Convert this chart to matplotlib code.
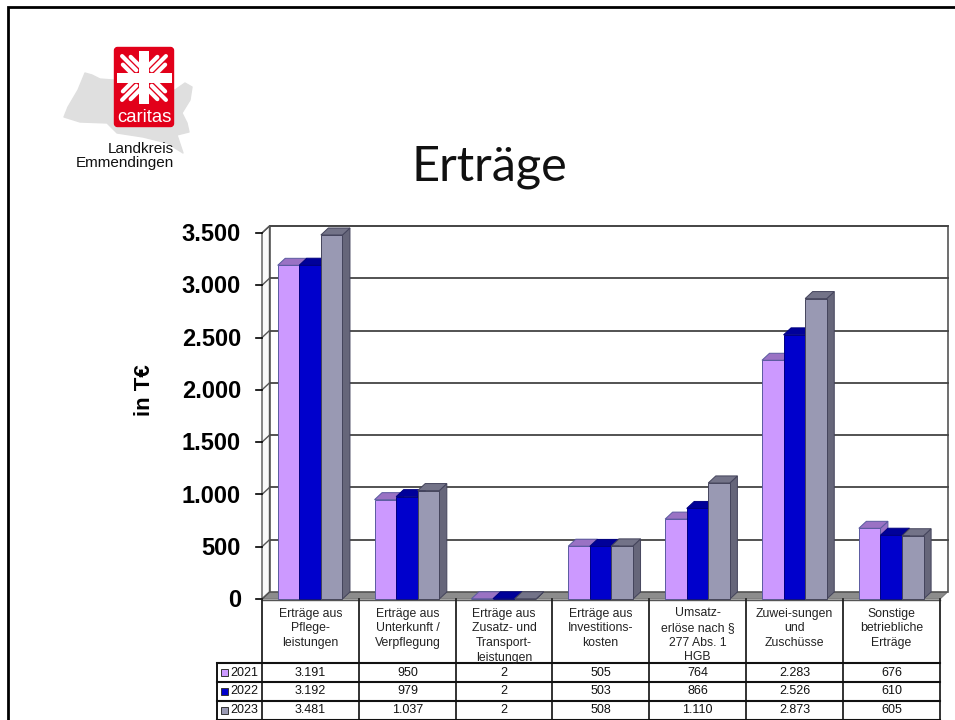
import numpy as np
import matplotlib
matplotlib.use('Agg')
import matplotlib.pyplot as plt
from matplotlib.patches import Polygon, Rectangle, FancyBboxPatch

plt.rcParams['font.family'] = ['Liberation Sans', 'DejaVu Sans']

# Data
categories = [
    ['Erträge aus', 'Pflege-', 'leistungen'],
    ['Erträge aus', 'Unterkunft /', 'Verpflegung'],
    ['Erträge aus', 'Zusatz- und', 'Transport-', 'leistungen'],
    ['Erträge aus', 'Investitions-', 'kosten'],
    ['Umsatz-', 'erlöse nach §', '277 Abs. 1', 'HGB'],
    ['Zuwei-sungen', 'und', 'Zuschüsse'],
    ['Sonstige', 'betriebliche', 'Erträge'],
]
years = ['2021', '2022', '2023']
v2021 = [3191, 950, 2, 505, 764, 2283, 676]
v2022 = [3192, 979, 2, 503, 866, 2526, 610]
v2023 = [3481, 1037, 2, 508, 1110, 2873, 605]
yticks = [0, 500, 1000, 1500, 2000, 2500, 3000, 3500]
ytick_labels = ['0', '500', '1.000', '1.500', '2.000', '2.500', '3.000', '3.500']

series = [v2021, v2022, v2023]
front = ['#CC99FF', '#0000CC', '#9999B3']
top = ['#9A72C4', '#000099', '#737388']
side = ['#9A72C4', '#00008A', '#66667A']
edge = ['#5A5AA0', '#000080', '#44445C']

W, H = 955, 720
fig = plt.figure(figsize=(W / 100, H / 100), dpi=100, facecolor='white')

# overlay in pixels for frame, logo, table
pg = fig.add_axes([0, 0, 1, 1])
pg.set_xlim(0, W)
pg.set_ylim(H, 0)
pg.axis('off')

pg.plot([8, 8, W], [H, 7, 7], color='black', lw=2, solid_joinstyle='miter')

# logo
blob = [(64, 117), (68, 107), (78, 90), (85, 73), (92, 75), (100, 79), (113, 80), (175, 90),
        (185, 83), (192, 87), (190, 100), (182, 113), (187, 123), (189, 132),
        (177, 135), (183, 153), (167, 143), (143, 137), (117, 133), (107, 123), (80, 122)]
pg.add_patch(Polygon(blob, fc='#DFDFDF', ec='#DFDFDF', lw=1, joinstyle='round'))
pg.add_patch(FancyBboxPatch((114.5, 47.5), 59, 79, boxstyle='round,pad=0,rounding_size=3', fc='#E2001A', ec='#E2001A', lw=1))
for sx, sy in [(-1, -1), (1, -1), (-1, 1), (1, 1)]:
    for off in [-5.5, 0, 5.5]:
        px, py = sx * 0.707, sy * 0.707
        qx, qy = -py, px
        r0, r1 = 11, 31 - abs(off) * 1.2
        pg.plot([144 + px * r0 + qx * off, 144 + px * r1 + qx * off],
                [78 + py * r0 + qy * off, 78 + py * r1 + qy * off],
                color='white', lw=3, solid_capstyle='round')
pg.add_patch(Rectangle((139, 51), 10, 53, fc='white', ec='none'))
pg.add_patch(Rectangle((117, 73), 55, 10, fc='white', ec='none'))
pg.text(144.5, 117, 'caritas', color='white', fontsize=13.3, ha='center', va='center')
pg.text(173.5, 149, 'Landkreis', fontsize=11, ha='right', va='center', color='#111111')
pg.text(173.5, 163, 'Emmendingen', fontsize=11, ha='right', va='center', color='#111111')

pg.text(489, 167, 'Erträge', fontsize=35, ha='center', va='center', family='Lato', color='#111111')
pg.text(144.5, 390, 'in T€', fontsize=16, fontweight='bold', rotation=90, ha='center', va='center')

# chart axes, front plane of the 3D box
x_left, x_right, y_top, y_bot = 262, 940, 233, 599
ax = fig.add_axes([x_left / W, 1 - y_bot / H, (x_right - x_left) / W, (y_bot - y_top) / H])
ax.set_xlim(0, 7)
ax.set_ylim(0, 3500)
ax.patch.set_visible(False)
ax.axis('off')
dx = 7.5 / (x_right - x_left) * 7
dy = 7 / (y_bot - y_top) * 3500
line = '#555555'

# walls and floor
ax.add_patch(Polygon([(0, 0), (7, 0), (7 + dx, dy), (dx, dy)], fc='#8C8C8C', ec='#777777', lw=0.8, clip_on=False, zorder=1))
ax.add_patch(Polygon([(0, 0), (dx, dy), (dx, 3500 + dy), (0, 3500)], fc='#FAFAFA', ec=line, lw=1, clip_on=False, zorder=1))
ax.add_patch(Rectangle((dx, dy), 7, 3500, fc='white', ec=line, lw=1.2, clip_on=False, zorder=1))
for t, lab in zip(yticks, ytick_labels):
    if t > 0:
        ax.plot([dx, 7 + dx], [t + dy, t + dy], color='#444444', lw=1.3, clip_on=False, zorder=2)
    ax.plot([0, dx], [t, t + dy], color=line, lw=1, clip_on=False, zorder=2)
    ax.plot([-6 / 96.9, 0], [t, t], color='black', lw=1.2, clip_on=False, zorder=2)
    ax.text(-21 / 96.9, t + 8, lab, fontsize=17, fontweight='bold', ha='right', va='center_baseline', clip_on=False)

# bars
bw = 21.6 / 96.9
x0 = 15.7 / 96.9
for i in range(7):
    for j in range(3):
        x = i + x0 + j * bw
        v = series[j][i]
        ax.add_patch(Polygon([(x + bw, 0), (x + bw + dx, dy), (x + bw + dx, v + dy), (x + bw, v)],
                             fc=side[j], ec=edge[j], lw=0.7, clip_on=False, zorder=3 + j))
        ax.add_patch(Polygon([(x, v), (x + dx, v + dy), (x + bw + dx, v + dy), (x + bw, v)],
                             fc=top[j], ec=edge[j], lw=0.7, clip_on=False, zorder=3 + j))
        ax.bar(x, v, width=bw, align='edge', color=front[j], edgecolor=edge[j], linewidth=0.7, clip_on=False, zorder=3 + j)

# table below the chart
xs = [262, 359, 456, 552, 649, 746, 843, 940]
row_y = [663, 682, 701, 719.5]
pg.set_zorder(5)
pg.patch.set_visible(False)
pg.plot([262, 940], [599.5, 599.5], color='#555555', lw=1)
for x in xs:
    pg.plot([x, x], [599, 720], color='#222222', lw=1.3)
pg.plot([217, 217], [663, 720], color='black', lw=1.3)
for y in row_y:
    pg.plot([217, 940], [y, y], color='#111111', lw=1.5)

def fmt(v):
    return f'{v:,}'.replace(',', '.')

header_y = [613.5, 628, 643, 657.5]
for i, lines in enumerate(categories):
    xc = (xs[i] + xs[i + 1]) / 2
    for k, txt in enumerate(lines):
        pg.text(xc, header_y[k], txt, fontsize=8.8, ha='center', va='center', color='#222222')
    for r in range(3):
        pg.text(xc, (row_y[r] + row_y[r + 1]) / 2, fmt(series[r][i]), fontsize=9, ha='center', va='center', color='#111111')
for r in range(3):
    ym = (row_y[r] + row_y[r + 1]) / 2
    pg.add_patch(Rectangle((221, ym - 3.5), 7, 7, fc=front[r], ec='#333333', lw=0.7))
    pg.text(230, ym, years[r], fontsize=9, ha='left', va='center', color='#111111')

fig.savefig('out.png', dpi=100)
